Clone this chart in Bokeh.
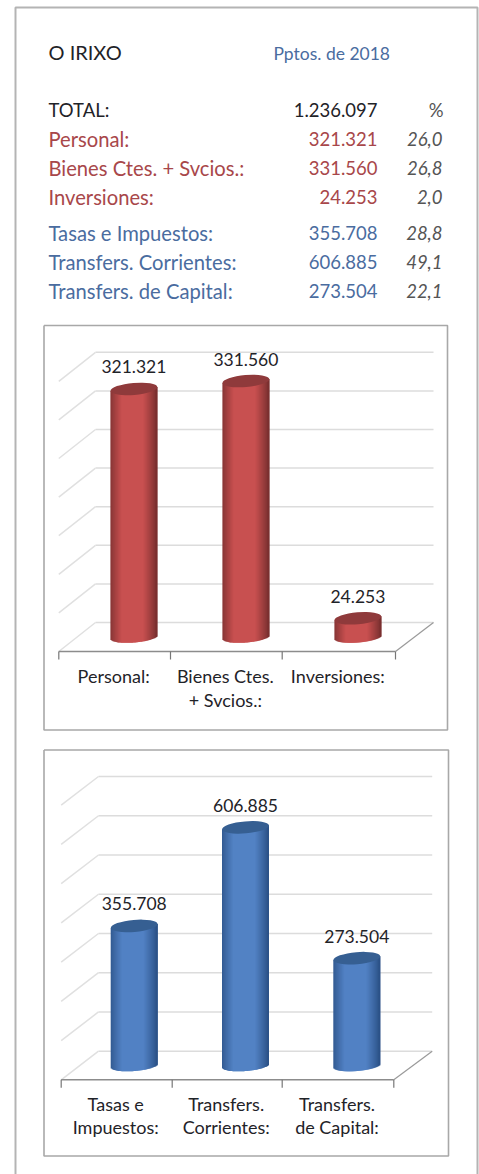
import math
from bokeh.plotting import figure
from bokeh.models import Range1d, ColumnDataSource
from bokeh.core.properties import value
from bokeh.embed import file_html
from bokeh.resources import INLINE

# ---- data ----
title = "O IRIXO"
subtitle = "Pptos. de 2018"
total_row = ("TOTAL:", "1.236.097", "%")
red_names = ["Personal:", "Bienes Ctes. + Svcios.:", "Inversiones:"]
red_values = [321321, 331560, 24253]
red_labels = ["321.321", "331.560", "24.253"]
red_pct = ["26,0", "26,8", "2,0"]
red_axis = [["Personal:"], ["Bienes Ctes.", "+ Svcios.:"], ["Inversiones:"]]
blue_names = ["Tasas e Impuestos:", "Transfers. Corrientes:", "Transfers. de Capital:"]
blue_values = [355708, 606885, 273504]
blue_labels = ["355.708", "606.885", "273.504"]
blue_pct = ["28,8", "49,1", "22,1"]
blue_axis = [["Tasas e", "Impuestos:"], ["Transfers.", "Corrientes:"], ["Transfers.", "de Capital:"]]
red_ticks = [0, 50000, 100000, 150000, 200000, 250000, 300000, 350000]
blue_ticks = [0, 100000, 200000, 300000, 400000, 500000, 600000, 700000]

FONT = value("Lato")
DARK = "#1f2328"
RED_T = "#a8474a"
BLUE_T = "#4a6c9f"

OX, OY = 0, 0
W, H = 479, 1174
p = figure(width=W, height=H, output_backend="svg", toolbar_location=None,
           x_range=Range1d(OX, OX + W), y_range=Range1d(OY + H, OY),
           min_border=0, outline_line_color=None, background_fill_color="white",
           border_fill_color="white")
p.axis.visible = False
p.grid.visible = False


def txt(x, y, s, color, size=18.5, align="left", style="normal"):
    p.text([x], [y - 1.5], text=[s], text_color=color, text_font=FONT,
           text_font_size=f"{size}px", text_align=align, text_baseline="middle",
           text_font_style=style)


# page frame (open at the bottom)
p.line([15, 15, 477, 477], [1174, 7, 7, 1174], line_color="#b4b4b4", line_width=2)

# header table
txt(48, 53, title, DARK, 20)
txt(273, 54, subtitle, BLUE_T, 17.5)
txt(48, 111, total_row[0], DARK, 18.5)
txt(377, 111, total_row[1], DARK, 18.5, "right")
txt(443, 111, total_row[2], "#555555", 18.5, "right")
for i, y in enumerate([140, 169, 198]):
    txt(48, y, red_names[i], RED_T, 20.2)
    txt(377, y, red_labels[i], RED_T, align="right")
    txt(442, y, red_pct[i], "#555555", align="right", style="italic")
for i, y in enumerate([234, 263, 292]):
    txt(48, y, blue_names[i], BLUE_T, 20.2)
    txt(377, y, blue_labels[i], BLUE_T, align="right")
    txt(442, y, blue_pct[i], "#555555", align="right", style="italic")


def mix(c1, c2, t):
    return "#" + "".join(f"{round(a + (b - a) * t):02x}" for a, b in zip(c1, c2))


def chart(name, box, vals, labels, axis_rows, ticks, zero_px, px_per_unit, centers,
          wall, front, tick_px, rows_y, depth_px, edge, mid, top_c):
    x0, y0, x1, y1 = box
    p.line([x0, x1, x1, x0, x0], [y0, y0, y1, y1, y0], line_color="#a8a8a8", line_width=1.6)

    yr, xr = f"{name}_y", f"{name}_x"
    step = centers[1] - centers[0]
    p.extra_y_ranges[yr] = Range1d((zero_px - (OY + H)) / px_per_unit, (zero_px - OY) / px_per_unit)
    p.extra_x_ranges[xr] = Range1d((OX - centers[0]) / step, (OX + W - centers[0]) / step)

    shift = depth_px / px_per_unit
    kw = dict(y_range_name=yr)
    p.segment(x0=[wall[0]] * len(ticks), x1=[wall[1]] * len(ticks),
              y0=[t + shift for t in ticks], y1=[t + shift for t in ticks],
              line_color="#dcdcdc", line_width=1.5, **kw)
    p.segment(x0=[front[0]] * len(ticks), x1=[wall[0]] * len(ticks),
              y0=[t - shift for t in ticks], y1=[t + shift for t in ticks],
              line_color="#e0e0e0", line_width=1.5, **kw)
    p.segment(x0=[front[0]], x1=[front[1]], y0=[-shift], y1=[-shift],
              line_color="#8c8c8c", line_width=1.5, **kw)
    p.segment(x0=[front[1]], x1=[wall[1]], y0=[-shift], y1=[shift],
              line_color="#9a9a9a", line_width=1.2, **kw)
    for tx in tick_px:
        p.line([tx, tx], [-shift, -shift - 8 / px_per_unit], line_color="#777777", line_width=1.2, **kw)

    a, b, tilt = 23.5, 5.5, 0.085
    n = 47
    L, R, T, B, C = [], [], [], [], []
    for i, v in enumerate(vals):
        for k in range(n):
            d0 = -a + k * 2 * a / n
            d1 = d0 + 2 * a / n
            dm = (d0 + d1) / 2
            u = dm / a
            bottom_px = b * math.sqrt(max(0.0, 1 - u * u))
            L.append(i + d0 / step)
            R.append(i + (d1 + 1.0) / step if k < n - 1 else i + d1 / step)
            T.append(v + dm * tilt / px_per_unit)
            B.append((dm * tilt - bottom_px) / px_per_unit)
            s = abs(u + 0.06)
            C.append(mix(edge, mid, min(1.0, max(0.0, (1 - s) / 0.55)) ** 0.85))
    src = ColumnDataSource(dict(left=L, right=R, top=T, bottom=B, color=C))
    p.quad(left="left", right="right", top="top", bottom="bottom", source=src,
           fill_color="color", line_color=None, x_range_name=xr, y_range_name=yr)
    p.ellipse(x=list(range(len(vals))), y=vals, width=47, height=12,
              width_units="screen", height_units="screen", angle=tilt,
              fill_color=top_c, line_color=None, x_range_name=xr, y_range_name=yr)

    p.text(x=list(range(len(vals))), y=vals, text=labels, y_offset=-22,
           text_font=FONT, text_font_size="17.5px", text_color=DARK,
           text_align="center", text_baseline="middle", x_range_name=xr, y_range_name=yr)

    for i, rows in enumerate(axis_rows):
        xc = (tick_px[i] + tick_px[i + 1]) / 2 - 1
        for j, s in enumerate(rows):
            txt(xc, rows_y[j], s, DARK, 18, "center")


chart("a", (43.5, 325, 447, 729.5), red_values, red_labels, red_axis, red_ticks,
      636.5, 0.772e-3, [133.4, 245.4, 357.4], (95, 433), (58.3, 395),
      [58.3, 170, 281.7, 395], [677, 700.5], 14.5,
      (122, 48, 48), (200, 80, 80), "#8f3a3b")
chart("b", (43.5, 749.5, 448, 1155.5), blue_values, blue_labels, blue_axis, blue_ticks,
      1065, 0.3924e-3, [133.7, 245, 356], (98, 431.7), (60.7, 393.3),
      [60.7, 171.7, 281.7, 393.3], [1104.7, 1127.7], 14.3,
      (44, 82, 136), (82, 130, 196), "#365f92")

open("out.html", "w").write(file_html(p, INLINE))
